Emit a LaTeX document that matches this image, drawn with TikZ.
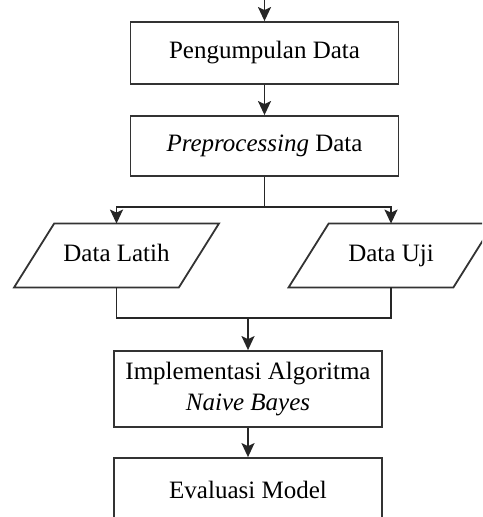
\documentclass[tikz,border=0pt]{standalone}
\usepackage{fontspec}
\setmainfont{Liberation Serif}
\usetikzlibrary{arrows.meta}

\begin{document}
\begin{tikzpicture}[x=0.5pt, y=-0.5pt, >={Stealth[length=7pt,width=6.5pt,inset=1.5pt]},
    font=\fontsize{12.5}{15.5}\selectfont,
    box/.style={draw=black!80, line width=0.9pt, minimum width=134pt, minimum height=31pt, align=center},
    io/.style={minimum width=82pt, minimum height=31.5pt, text height=1.6ex, text depth=0.4ex},
    outline/.style={draw=black!80, line width=0.9pt, line join=miter},
    flow/.style={line width=0.9pt, black!85}]
    \useasboundingbox (0,0) rectangle (482,517);
    \clip (0,0) rectangle (482,517);

    % process boxes and the two data sets
    \node (collect) [box, minimum height=31pt] at (264.5,53) {Pengumpulan Data};
    \node (prep) [box, minimum height=30pt] at (264.5,146) {\textit{Preprocessing} Data};
    \node (latih) [io] at (116.5,255.5) {Data Latih};
    \node (uji) [io] at (391,255.5) {Data Uji};
    \node (impl) [box, minimum height=38pt] at (248,389) {Implementasi Algoritma\\\textit{Naive Bayes}};
    \node (eval) [box, minimum height=32pt] at (248,490) {Evaluasi Model};

    % slanted outline of the data sets
    \foreach \n in {latih,uji}
      \draw[outline] ([xshift=10pt]\n.north west) -- ([xshift=10pt]\n.north east)
        -- ([xshift=-10pt]\n.south east) -- ([xshift=-10pt]\n.south west) -- cycle;

    \coordinate (start) at (264.5,-20);
    \coordinate (split) at (264.5,207);
    \coordinate (join) at (248,318);

    % connectors
    \draw[flow,->] (start) -- (collect.north);
    \draw[flow,->] (collect) -- (prep);
    \draw[flow] (prep.south) -- (split);
    \draw[flow,->] (split) -| (latih.north);
    \draw[flow,->] (split) -| (uji.north);
    \draw[flow] (latih.south) |- (join);
    \draw[flow] (uji.south) |- (join);
    \draw[flow,->] (join) -- (impl.north);
    \draw[flow,->] (impl) -- (eval);
\end{tikzpicture}
\end{document}
